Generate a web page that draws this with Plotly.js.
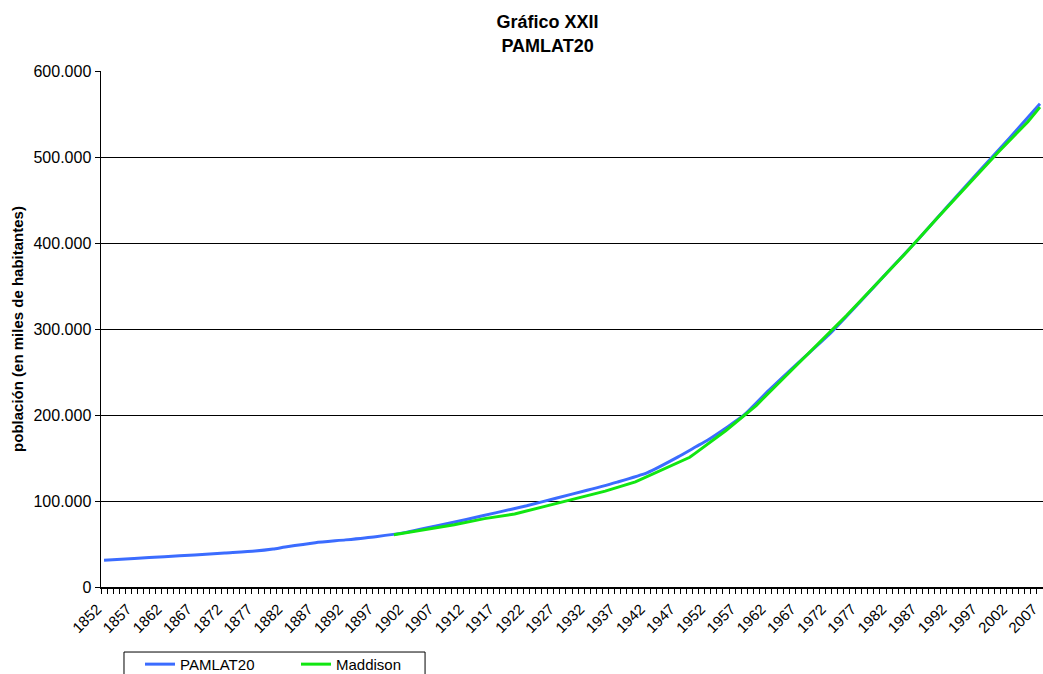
<!DOCTYPE html>
<html>
<head>
<meta charset="utf-8">
<script src="https://cdn.plot.ly/plotly-3.0.1.min.js"></script>
<style>
html,body{margin:0;padding:0;background:#fff;}
#chart{width:1043px;height:674px;}
</style>
</head>
<body>
<div id="chart"></div>
<script>
// PAMLAT20 series (miles de habitantes)
const pamlatYears = [1852,1857,1862,1867,1872,1877,1880,1882,1887,1892,1897,1902,1907,1912,1917,1922,1927,1932,1937,1942,1947,1950,1952,1955,1958,1962,1967,1972,1977,1982,1987,1992,1997,2002,2007];
const pamlatValues = [31000,33200,35300,37200,39500,41800,44200,46500,51500,54800,58500,63500,71000,78500,86500,94500,103500,112500,122000,133000,151000,163000,171000,185000,200000,228000,261000,293000,330000,368000,405500,445000,484000,522500,562000];

// Maddison series (miles de habitantes)
const maddisonYears = [1900,1905,1910,1915,1920,1925,1930,1935,1940,1945,1949,1950,1953,1955,1960,1965,1970,1975,1980,1985,1990,1995,2000,2005,2007];
const maddisonValues = [60800,66500,72500,79500,84900,93800,103000,111500,122300,138500,150800,156000,171700,182000,211000,246000,281000,316000,353000,390000,429000,467000,505000,541000,558000];

// tick labels
const xTickYears = [1852,1857,1862,1867,1872,1877,1882,1887,1892,1897,1902,1907,1912,1917,1922,1927,1932,1937,1942,1947,1952,1957,1962,1967,1972,1977,1982,1987,1992,1997,2002,2007];
const yTicks = [0,100000,200000,300000,400000,500000,600000];

const FONT = 'Liberation Sans, Arial, sans-serif';

const traces = [
  {x: pamlatYears, y: pamlatValues, name: 'PAMLAT20', type: 'scatter', mode: 'lines',
   line: {color: '#3b6cff', width: 3, shape: 'spline', smoothing: 0.6}},
  {x: maddisonYears, y: maddisonValues, name: 'Maddison', type: 'scatter', mode: 'lines',
   line: {color: '#11e611', width: 3}}
];

const layout = {
  width: 1043, height: 674,
  margin: {l: 101, r: 0, t: 71, b: 87, pad: 0, autoexpand: false},
  paper_bgcolor: '#fff', plot_bgcolor: '#fff',
  separators: ',.',
  font: {family: FONT, color: '#000', size: 15},
  title: {text: '<b>Gráfico XXII</b><br><b>PAMLAT20</b>', x: 0.525, xanchor: 'center',
          y: 0.958, yanchor: 'middle',
          font: {family: FONT, size: 18, color: '#000'}},
  xaxis: {
    range: [1851.5, 2007.5], tickmode: 'array', tickvals: xTickYears,
    ticktext: xTickYears.map(String), ticklabeloverflow: 'allow',
    ticklabelshift: -7, ticklabelstandoff: 6,
    tickangle: -45, ticks: '', showgrid: false, zeroline: false,
    showline: true, linecolor: '#000', linewidth: 1.5,
    tickfont: {size: 15, family: FONT},
    minor: {ticks: 'outside', tick0: 1851.5, dtick: 1, ticklen: 5, tickcolor: '#000', tickwidth: 1, showgrid: false}
  },
  yaxis: {
    range: [0, 600000], tickmode: 'array', tickvals: yTicks, tickformat: ',d',
    ticks: 'outside', ticklen: 5, tickcolor: '#000',
    showgrid: true, gridcolor: '#000', gridwidth: 1, zeroline: false,
    showline: true, linecolor: '#000', linewidth: 1.5,
    tickfont: {size: 16, family: FONT},
    title: {text: '<b>población (en miles de habitantes)</b>', standoff: 6,
            font: {size: 15, family: FONT}}
  },
  legend: {
    orientation: 'h', x: 0.0414, xanchor: 'left', y: -0.118, yanchor: 'top',
    borderwidth: 0, bgcolor: 'rgba(0,0,0,0)',
    font: {size: 15, family: FONT},
    entrywidth: 111, entrywidthmode: 'pixels'
  },
  shapes: [
    {type: 'rect', xref: 'paper', yref: 'paper', x0: 0.0244, x1: 0.344, y0: -0.126, y1: -0.2,
     line: {color: '#000', width: 1}, fillcolor: 'rgba(0,0,0,0)', layer: 'below'}
  ],
  showlegend: true
};

Plotly.newPlot('chart', traces, layout, {displayModeBar: false, staticPlot: true});
</script>
</body>
</html>
